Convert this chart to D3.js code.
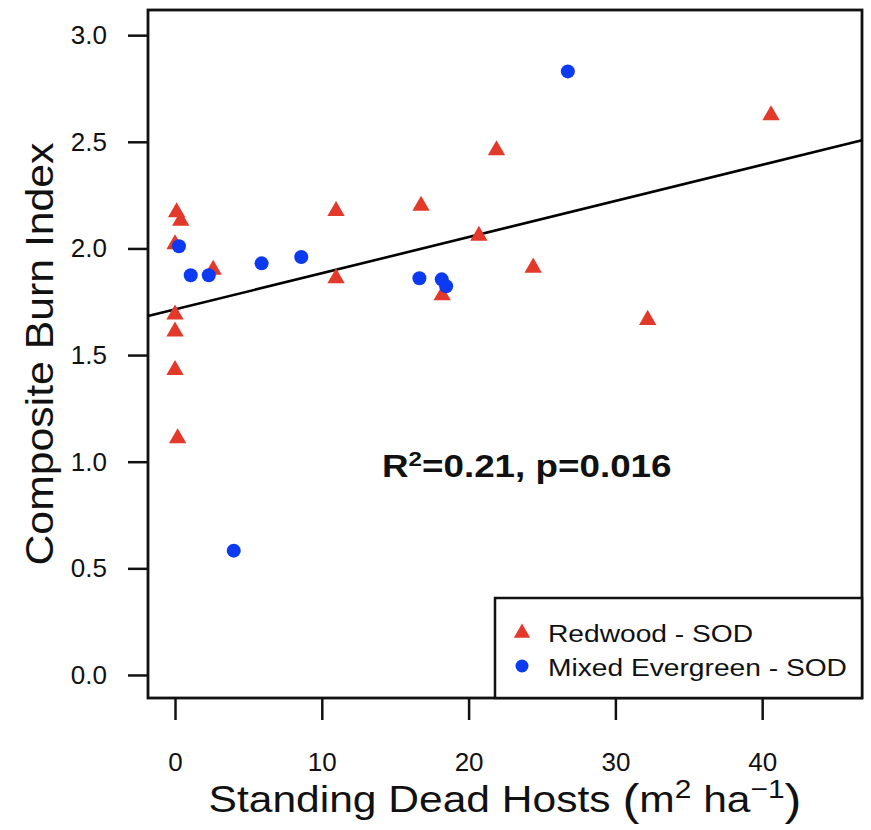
<!DOCTYPE html>
<html>
<head>
<meta charset="utf-8">
<script src="https://cdn.jsdelivr.net/npm/d3@7"></script>
<style>
  body { margin: 0; background: #fff; }
  svg text { font-family: "Liberation Sans", Arial, Helvetica, sans-serif; fill: #111; }
</style>
</head>
<body>
<svg id="scatter-plot"></svg>
<script>
// Data
var redwoodX = [0.11, 0.39, 0.0, 2.6, 10.97, 10.97, 16.76, 0.0, 0.0, 0.0, 0.18, 21.9, 40.6, 20.7, 24.4, 18.2, 32.2];
var redwoodY = [2.17, 2.13, 2.02, 1.90, 2.175, 1.86, 2.20, 1.69, 1.61, 1.43, 1.11, 2.46, 2.625, 2.06, 1.91, 1.78, 1.665];
var mixedX = [0.27, 1.07, 2.3, 5.9, 8.6, 16.65, 18.17, 18.47, 26.76, 4.0];
var mixedY = [2.01, 1.874, 1.874, 1.93, 1.96, 1.86, 1.855, 1.823, 2.83, 0.583];
var xTicks = [0, 10, 20, 30, 40];
var yTicks = [0, 0.5, 1.0, 1.5, 2.0, 2.5, 3.0];
var fitIntercept = 1.714;
var fitSlope = 0.01696;
var legendLabels = ["Redwood - SOD", "Mixed Evergreen - SOD"];

var dims = {
    width: 871,
    height: 830,
    box: { left: 148, right: 862, top: 10, bottom: 698 }
};

var redColor = "#e2392b";
var blueColor = "#0b3af2";

const svg = d3.select("#scatter-plot")
    .attr("width", dims.width)
    .attr("height", dims.height);

const xScale = d3.scaleLinear()
    .domain([-1.84, 46.8])
    .range([dims.box.left, dims.box.right]);

const yScale = d3.scaleLinear()
    .domain([-0.108, 3.118])
    .range([dims.box.bottom, dims.box.top]);

// x axis (ticks hang below the box)
const xAxis = svg.append("g")
    .attr("transform", `translate(0,${dims.box.bottom})`)
    .call(d3.axisBottom(xScale).tickValues(xTicks).tickSize(22).tickPadding(33).tickFormat(d3.format("d")));
xAxis.select(".domain").remove();
xAxis.selectAll("line").attr("stroke", "#111").attr("stroke-width", 2.5);
xAxis.selectAll("text").style("font-size", "26px").attr("fill", "#333");

// y axis
const yAxis = svg.append("g")
    .attr("transform", `translate(${dims.box.left},0)`)
    .call(d3.axisLeft(yScale).tickValues(yTicks).tickSize(20).tickPadding(21).tickFormat(d3.format(".1f")));
yAxis.select(".domain").remove();
yAxis.selectAll("line").attr("stroke", "#111").attr("stroke-width", 2.5);
yAxis.selectAll("text").style("font-size", "26px").attr("fill", "#333");

// plot frame
svg.append("rect")
    .attr("x", dims.box.left)
    .attr("y", dims.box.top)
    .attr("width", dims.box.right - dims.box.left)
    .attr("height", dims.box.bottom - dims.box.top)
    .attr("fill", "none")
    .attr("stroke", "#111")
    .attr("stroke-width", 2.8);

// regression line across the whole plot
const xd = xScale.domain();
svg.append("line")
    .attr("x1", xScale(xd[0]))
    .attr("y1", yScale(fitIntercept + fitSlope * xd[0]))
    .attr("x2", xScale(xd[1]))
    .attr("y2", yScale(fitIntercept + fitSlope * xd[1]))
    .attr("stroke", "#000")
    .attr("stroke-width", 2.6);

const triangle = d3.symbol().type(d3.symbolTriangle).size(130);

// redwood triangles
svg.append("g").selectAll("path")
    .data(d3.range(redwoodX.length))
    .enter()
    .append("path")
    .attr("d", triangle)
    .attr("transform", i => `translate(${xScale(redwoodX[i])},${yScale(redwoodY[i])})`)
    .attr("fill", redColor);

// mixed evergreen circles
svg.append("g").selectAll("circle")
    .data(d3.range(mixedX.length))
    .enter()
    .append("circle")
    .attr("cx", i => xScale(mixedX[i]))
    .attr("cy", i => yScale(mixedY[i]))
    .attr("r", 7)
    .attr("fill", blueColor);

// stats annotation
const note = svg.append("text")
    .attr("transform", "translate(382,477) scale(1.15,1)")
    .style("font-size", "32px")
    .style("font-weight", "bold");
note.append("tspan").text("R");
note.append("tspan").attr("dy", -11).style("font-size", "21px").text("2");
note.append("tspan").attr("dy", 11).text("=0.21, p=0.016");

// legend
svg.append("rect")
    .attr("x", 495)
    .attr("y", 598)
    .attr("width", dims.box.right - 495)
    .attr("height", dims.box.bottom - 598)
    .attr("fill", "#fff")
    .attr("stroke", "#111")
    .attr("stroke-width", 2.5);

svg.append("path")
    .attr("d", d3.symbol().type(d3.symbolTriangle).size(115))
    .attr("transform", "translate(522,633)")
    .attr("fill", redColor);
svg.append("circle")
    .attr("cx", 522)
    .attr("cy", 666)
    .attr("r", 6.5)
    .attr("fill", blueColor);

legendLabels.forEach((lab, i) => {
    svg.append("text")
        .attr("transform", `translate(548,${642 + i * 34}) scale(1.15,1)`)
        .style("font-size", "24.5px")
        .text(lab);
});

// axis titles
const xTitle = svg.append("text")
    .attr("transform", `translate(${(dims.box.left + dims.box.right) / 2},812) scale(1.15,1)`)
    .attr("text-anchor", "middle")
    .style("font-size", "37px");
xTitle.append("tspan").text("Standing Dead Hosts ");
xTitle.append("tspan").style("font-size", "44px").attr("dy", 3).text("(");
xTitle.append("tspan").attr("dy", -3).text("m");
xTitle.append("tspan").attr("dy", -14).style("font-size", "26px").text("2");
xTitle.append("tspan").attr("dy", 14).text(" ha");
xTitle.append("tspan").attr("dy", -14).style("font-size", "26px").text("\u22121");
xTitle.append("tspan").attr("dy", 17).style("font-size", "44px").text(")");

svg.append("text")
    .attr("transform", `translate(53,${(dims.box.top + dims.box.bottom) / 2}) rotate(-90)`)
    .attr("text-anchor", "middle")
    .attr("textLength", 423)
    .attr("lengthAdjust", "spacingAndGlyphs")
    .style("font-size", "39px")
    .text("Composite Burn Index");
</script>
</body>
</html>
